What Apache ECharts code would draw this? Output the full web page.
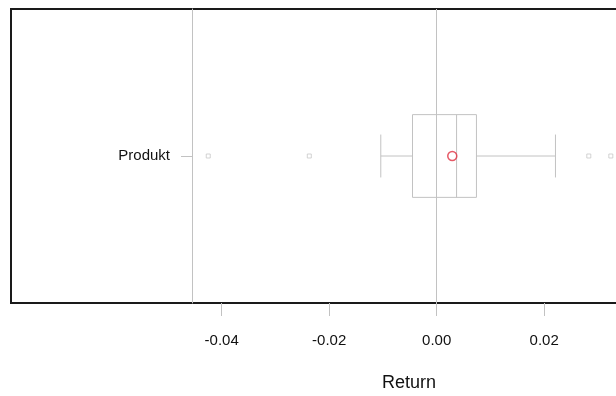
<!DOCTYPE html>
<html>
<head>
<meta charset="utf-8">
<script src="https://cdn.jsdelivr.net/npm/echarts@6/dist/echarts.min.js"></script>
<style>
  html, body { margin: 0; padding: 0; background: #fff; }
  #chart { width: 616px; height: 396px; }
</style>
</head>
<body>
<div id="chart"></div>
<script>
// ---- data ----
const categories = ['Produkt'];
// [min whisker, Q1, median, Q3, max whisker]
const boxStats = [[-0.0104, -0.0045, 0.0037, 0.0074, 0.0221]];
const outlierValues = [-0.0425, -0.0237, 0.0283, 0.0324];
const meanValues = [0.0029];
const tickValues = [-0.04, -0.02, 0, 0.02, 0.04, 0.06];
const referenceLines = [0];

const boxData = boxStats.map((s, i) => [i].concat(s));
const outlierData = outlierValues.map(v => [v, 0]);
const meanData = meanValues.map((v, i) => [v, i]);

const gray = '#c2c2c2';

const chart = echarts.init(document.getElementById('chart'), null, { renderer: 'canvas' });

chart.setOption({
  animation: false,
  backgroundColor: '#fff',
  grid: {
    left: 11, top: 9, right: -191, bottom: 93,
    show: true, borderColor: '#1a1a1a', borderWidth: 2,
    outerBoundsMode: 'none'
  },
  xAxis: {
    type: 'value',
    min: -0.0792, max: 0.0689,
    splitLine: { show: false },
    axisLine: { show: false, onZero: false },
    axisTick: { show: true, length: 13, customValues: tickValues, lineStyle: { color: gray } },
    axisLabel: {
      customValues: tickValues,
      formatter: v => v.toFixed(2),
      fontSize: 15, color: '#111', margin: 30,
      fontFamily: 'Liberation Sans, Arial, sans-serif'
    },
    name: 'Return',
    nameLocation: 'middle',
    nameGap: 71,
    nameTextStyle: { fontSize: 18, color: '#111', fontFamily: 'Liberation Sans, Arial, sans-serif' }
  },
  yAxis: {
    type: 'category',
    data: categories,
    offset: -181,
    axisLine: { show: true, onZero: false, lineStyle: { color: gray, width: 1 } },
    axisTick: { show: true, alignWithLabel: true, length: 11, lineStyle: { color: gray } },
    axisLabel: { fontSize: 15, color: '#111', margin: 22, fontFamily: 'Liberation Sans, Arial, sans-serif' },
    splitLine: { show: false }
  },
  series: [
    {
      type: 'custom',
      data: boxData,
      encode: { x: [1, 2, 3, 4, 5], y: 0 },
      renderItem: function (params, api) {
        const c = api.value(0);
        const pMin = api.coord([api.value(1), c]);
        const pQ1 = api.coord([api.value(2), c]);
        const pMed = api.coord([api.value(3), c]);
        const pQ3 = api.coord([api.value(4), c]);
        const pMax = api.coord([api.value(5), c]);
        const band = api.size([0, 1])[1];
        const hb = band * 0.1407;
        const hc = band * 0.073;
        const cy = pMed[1];
        const st = { stroke: gray, lineWidth: 1, fill: null };
        return {
          type: 'group',
          children: [
            { type: 'rect', shape: { x: pQ1[0], y: cy - hb, width: pQ3[0] - pQ1[0], height: 2 * hb }, style: st },
            { type: 'line', shape: { x1: pMed[0], y1: cy - hb, x2: pMed[0], y2: cy + hb }, style: st },
            { type: 'line', shape: { x1: pMin[0], y1: cy, x2: pQ1[0], y2: cy }, style: st },
            { type: 'line', shape: { x1: pQ3[0], y1: cy, x2: pMax[0], y2: cy }, style: st },
            { type: 'line', shape: { x1: pMin[0], y1: cy - hc, x2: pMin[0], y2: cy + hc }, style: st },
            { type: 'line', shape: { x1: pMax[0], y1: cy - hc, x2: pMax[0], y2: cy + hc }, style: st }
          ]
        };
      },
      markLine: {
        silent: true,
        symbol: ['none', 'none'],
        label: { show: false },
        lineStyle: { color: gray, width: 1, type: 'solid' },
        data: referenceLines.map(v => ({ xAxis: v }))
      },
      z: 2
    },
    {
      type: 'scatter',
      data: outlierData,
      symbol: 'rect',
      symbolSize: 4,
      itemStyle: { color: '#fff', borderColor: '#c8c8c8', borderWidth: 1 },
      z: 3
    },
    {
      type: 'scatter',
      data: meanData,
      symbol: 'circle',
      symbolSize: 9,
      itemStyle: { color: 'rgba(0,0,0,0)', borderColor: '#e03040', borderWidth: 1.5 },
      z: 4
    }
  ]
});
</script>
</body>
</html>
